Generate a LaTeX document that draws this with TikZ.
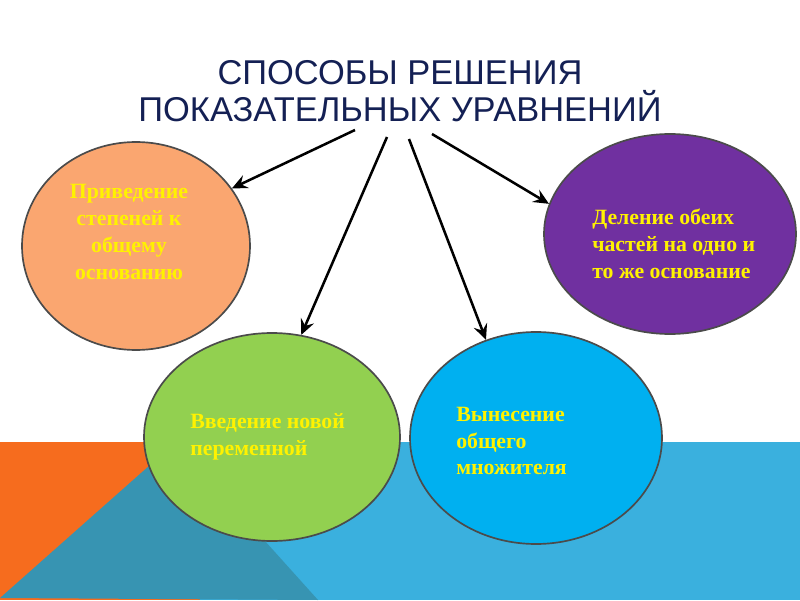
\documentclass[tikz,border=0pt]{standalone}
\usepackage{fontspec}
\setmainfont{Liberation Serif}
\newfontfamily\titlefont{Liberation Sans}
\usetikzlibrary{arrows.meta,shapes.geometric}

\definecolor{bandorange}{RGB}{246,108,30}
\definecolor{bandteal}{RGB}{55,148,178}
\definecolor{bandblue}{RGB}{58,176,222}
\definecolor{peach}{RGB}{250,166,112}
\definecolor{plum}{RGB}{112,48,160}
\definecolor{leaf}{RGB}{146,208,80}
\definecolor{sky}{RGB}{0,176,240}
\definecolor{navy}{RGB}{20,32,84}
\definecolor{rim}{RGB}{75,75,75}

\begin{document}
\begin{tikzpicture}[
    bubble/.style={ellipse, draw=rim, line width=1.2pt, inner sep=0pt},
    bubbletext/.style={text=yellow, font=\fontsize{15.5}{19}\selectfont\bfseries, inner sep=0pt},
    pointer/.style={-{Stealth[length=11pt,width=10pt,inset=4pt]}, line width=1.8pt, black}
]
            \useasboundingbox (0,0) rectangle (20,15);

            % Coloured band at the bottom
            \fill [bandorange] (0,0) rectangle (5,3.95);
            \fill [bandblue] (5,0) rectangle (20,3.95);
            \fill [bandteal] (0,0.05) -- (4.4,3.95) -- (7.95,0) -- cycle;

            % Title
            \node [text=navy, font=\titlefont\fontsize{24.5}{26.5}\selectfont, align=center] (title) at (10,12.72)
                {СПОСОБЫ РЕШЕНИЯ\\ПОКАЗАТЕЛЬНЫХ УРАВНЕНИЙ};

            % Four methods
            \node [bubble, fill=peach, minimum width=5.7cm, minimum height=5.2cm] (privedenie) at (3.4,8.85) {};
            \node [bubble, fill=plum, minimum width=6.3cm, minimum height=5.0cm] (delenie) at (16.75,9.15) {};
            \node [bubble, fill=leaf, minimum width=6.4cm, minimum height=5.2cm] (vvedenie) at (6.8,4.075) {};
            \node [bubble, fill=sky, minimum width=6.3cm, minimum height=5.3cm] (vynesenie) at (13.4,4.05) {};

            \node [bubbletext, align=center] (privedenieText) at ([xshift=-0.175cm, yshift=0.35cm]privedenie.center)
                {Приведение\\степеней к\\общему\\основанию};
            \node [bubbletext, align=left, anchor=west] (delenieText) at ([xshift=-1.95cm, yshift=-0.25cm]delenie.center)
                {Деление обеих\\частей на одно и\\то же основание};
            \node [bubbletext, align=left, anchor=west] (vvedenieText) at ([xshift=-2.05cm]vvedenie.center)
                {Введение новой\\переменной};
            \node [bubbletext, align=left, anchor=west] (vynesenieText) at ([xshift=-2.0cm, yshift=-0.075cm]vynesenie.center)
                {Вынесение\\общего\\множителя};

            % Arrows from the title
            \coordinate (s1) at (8.875,11.75);
            \coordinate (s2) at (9.675,11.575);
            \coordinate (s3) at (10.225,11.525);
            \coordinate (s4) at (10.8,11.65);
            \draw [pointer] (s1) -- (privedenie.31);
            \draw [pointer] (s2) -- (vvedenie.74);
            \draw [pointer] (s3) -- (vynesenie.117.5);
            \draw [pointer] (s4) -- (delenie.166.6);
\end{tikzpicture}
\end{document}
